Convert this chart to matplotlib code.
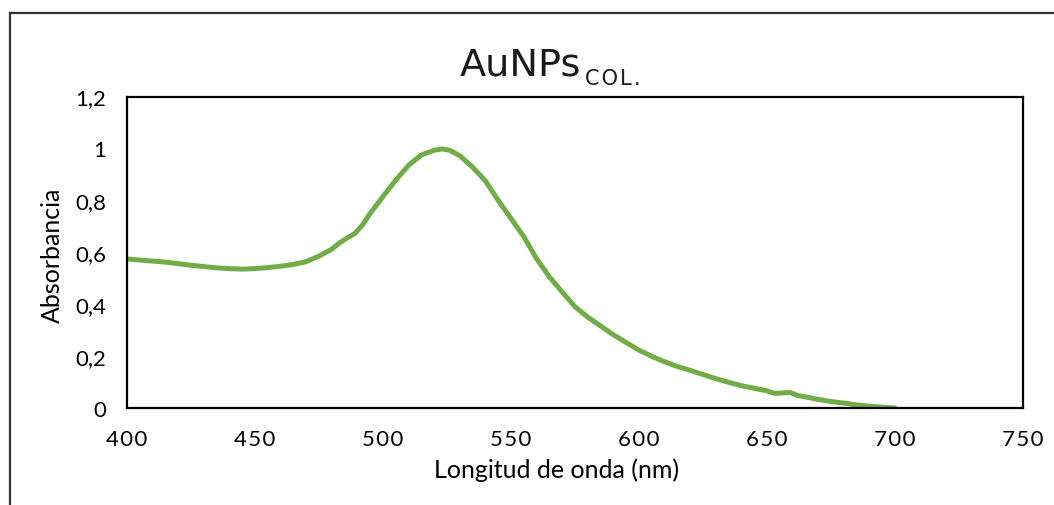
import numpy as np
import matplotlib.pyplot as plt
from matplotlib.lines import Line2D

# UV-Vis spectrum
wavelength = [400, 405, 410, 415, 420, 425, 430, 435, 440, 445, 450, 455, 460,
              465, 470, 475, 480, 483, 486, 489, 492, 495, 500, 505, 510, 515,
              520, 523, 526, 530, 535, 540, 545, 550, 555, 560, 565, 570, 575,
              580, 585, 590, 595, 600, 605, 610, 615, 620, 625, 630, 635, 640,
              645, 650, 653, 656, 659, 662, 665, 670, 675, 680, 685, 690, 695,
              700]
absorbance = [0.574, 0.570, 0.566, 0.562, 0.556, 0.550, 0.545, 0.540, 0.537,
              0.535, 0.537, 0.541, 0.546, 0.553, 0.564, 0.585, 0.612, 0.636,
              0.655, 0.672, 0.705, 0.750, 0.815, 0.878, 0.935, 0.975, 0.993,
              0.998, 0.993, 0.972, 0.928, 0.875, 0.800, 0.730, 0.660, 0.575,
              0.505, 0.447, 0.390, 0.350, 0.316, 0.282, 0.252, 0.223, 0.199,
              0.178, 0.160, 0.145, 0.129, 0.113, 0.099, 0.086, 0.076, 0.066,
              0.056, 0.058, 0.060, 0.048, 0.043, 0.033, 0.025, 0.019, 0.012,
              0.007, 0.003, 0.000]

xticks = [400, 450, 500, 550, 600, 650, 700, 750]
yticks = [0, 0.2, 0.4, 0.6, 0.8, 1.0, 1.2]
ytick_labels = ['0', '0,2', '0,4', '0,6', '0,8', '1', '1,2']

W, H = 1054, 506
fig = plt.figure(figsize=(W / 100, H / 100), dpi=100)
ax = fig.add_axes([127 / W, 1 - 409 / H, (1023 - 127) / W, (409 - 97.5) / H])

ax.plot(wavelength, absorbance, color='#70AD47', linewidth=3.6,
        solid_capstyle='round', solid_joinstyle='round')

ax.set_xlim(400, 750)
ax.set_ylim(0, 1.2)
ax.set_xticks(xticks)
# letter-spaced labels as in the original
ax.set_xticklabels(['\u200a'.join(str(v)) for v in xticks],
                   fontfamily='Lato', fontsize=16)
ax.set_yticks(yticks)
ax.set_yticklabels(ytick_labels, fontfamily='Lato', fontsize=16)
ax.tick_params(axis='both', length=0, colors='black')
ax.tick_params(axis='x', pad=15)
ax.tick_params(axis='y', pad=15)
for sp in ax.spines.values():
    sp.set_color('black')
    sp.set_linewidth(1.6)

# axis titles
fig.text(557 / W, 1 - 470 / H, 'Longitud de onda (nm)', fontfamily='Lato',
         fontsize=18, ha='center', va='center')
fig.text(52 / W, 1 - 255 / H, 'Absorbancia', fontfamily='Lato',
         fontsize=18, ha='center', va='center', rotation=90)

# title with subscript
fig.text(460 / W, 1 - 75 / H, 'AuNPs', fontfamily='DejaVu Sans',
         fontsize=27.5, ha='left', va='baseline', color='#1a1a1a')
fig.text(585 / W, 1 - 85 / H, 'C\u200aO\u200aL\u200a.', fontfamily='DejaVu Sans',
         fontsize=15, ha='left', va='baseline', color='#1a1a1a')

# outer chart border (left and top visible)
fig.add_artist(Line2D([9.5 / W, 9.5 / W], [0, 1 - 13.5 / H],
                      transform=fig.transFigure, color='#333333', lw=1.6))
fig.add_artist(Line2D([9.5 / W, 1], [1 - 13.5 / H, 1 - 13.5 / H],
                      transform=fig.transFigure, color='#333333', lw=1.6))

fig.savefig('out.png', dpi=100)
